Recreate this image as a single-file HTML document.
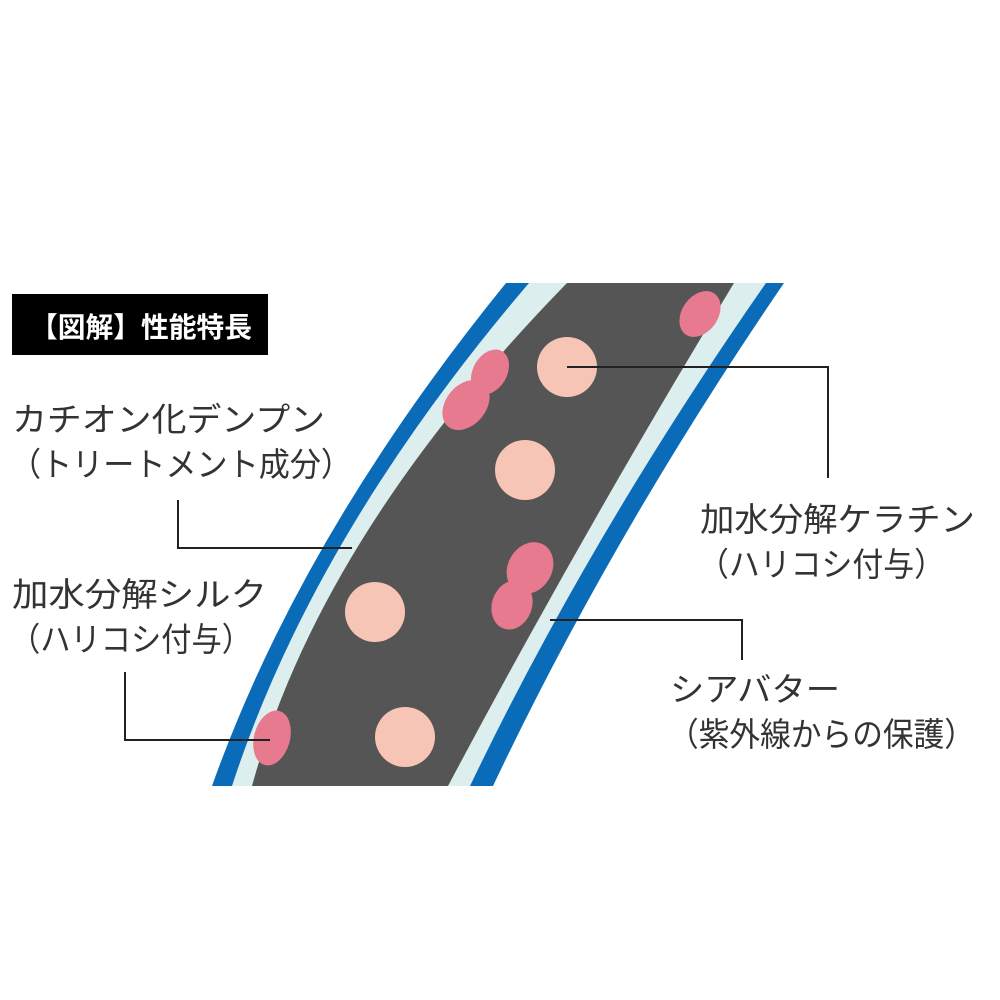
<!DOCTYPE html>
<html><head><meta charset="utf-8"><style>
html,body{margin:0;padding:0;background:#fff;}
svg{display:block;}
text{font-family:"Liberation Sans","Noto Sans CJK JP",sans-serif;fill:#333;}
</style></head><body>
<svg width="1000" height="1000" viewBox="0 0 1000 1000" xmlns="http://www.w3.org/2000/svg">
<rect width="1000" height="1000" fill="#fff"/>
<!-- hair band -->
<path d="M212,786 Q301,535.5 506,283 L784,283 Q611.5,535.5 493,786 Z" fill="#0a6cb8"/>
<path d="M232,786 Q313.5,535.5 529,283 L766,283 Q590,535.5 470,786 Z" fill="#dcefee"/>
<path d="M252,786 Q320.5,535.5 567,283 L734,283 Q581,535.5 448,786 Z" fill="#555555"/>
<!-- pink blobs -->
<g fill="#e87a90">
<ellipse cx="700" cy="314" rx="18" ry="25" transform="rotate(35 700 314)"/>
<ellipse cx="490" cy="372" rx="17" ry="24" transform="rotate(30 490 372)"/>
<ellipse cx="466" cy="405" rx="20" ry="28" transform="rotate(40 466 405)"/>
<ellipse cx="530" cy="568" rx="22" ry="27" transform="rotate(30 530 568)"/>
<ellipse cx="512" cy="605" rx="20" ry="25" transform="rotate(20 512 605)"/>
<ellipse cx="272" cy="738" rx="18" ry="28" transform="rotate(15 272 738)"/>
</g>
<!-- peach circles -->
<g fill="#f7c5b5">
<circle cx="567" cy="367" r="30"/>
<circle cx="525" cy="470" r="30"/>
<circle cx="375" cy="612" r="30"/>
<circle cx="405" cy="737" r="30"/>
</g>
<!-- leader lines -->
<g stroke="#222" stroke-width="2" fill="none">
<polyline points="567,367 828,367 828,478"/>
<polyline points="178,500 178,548 352,548"/>
<polyline points="125,672 125,740 270,740"/>
<polyline points="550,620 742,620 742,660"/>
</g>
<!-- title -->
<rect x="12" y="294" width="256" height="61" fill="#000"/>
<text x="30" y="337" font-size="28" font-weight="bold" style="fill:#fff" textLength="222" lengthAdjust="spacingAndGlyphs">【図解】性能特長</text>
<!-- labels -->
<g font-size="33">
<text x="12" y="431" textLength="313" lengthAdjust="spacingAndGlyphs">カチオン化デンプン</text>
<text x="10" y="476" textLength="342" lengthAdjust="spacingAndGlyphs">（トリートメント成分）</text>
<text x="12" y="606" textLength="255" lengthAdjust="spacingAndGlyphs">加水分解シルク</text>
<text x="10" y="651" textLength="242" lengthAdjust="spacingAndGlyphs">（ハリコシ付与）</text>
<text x="700" y="531" textLength="275" lengthAdjust="spacingAndGlyphs">加水分解ケラチン</text>
<text x="698" y="576" textLength="247" lengthAdjust="spacingAndGlyphs">（ハリコシ付与）</text>
<text x="670" y="701" textLength="170" lengthAdjust="spacingAndGlyphs">シアバター</text>
<text x="668" y="746" textLength="307" lengthAdjust="spacingAndGlyphs">（紫外線からの保護）</text>
</g>
</svg>
</body></html>
